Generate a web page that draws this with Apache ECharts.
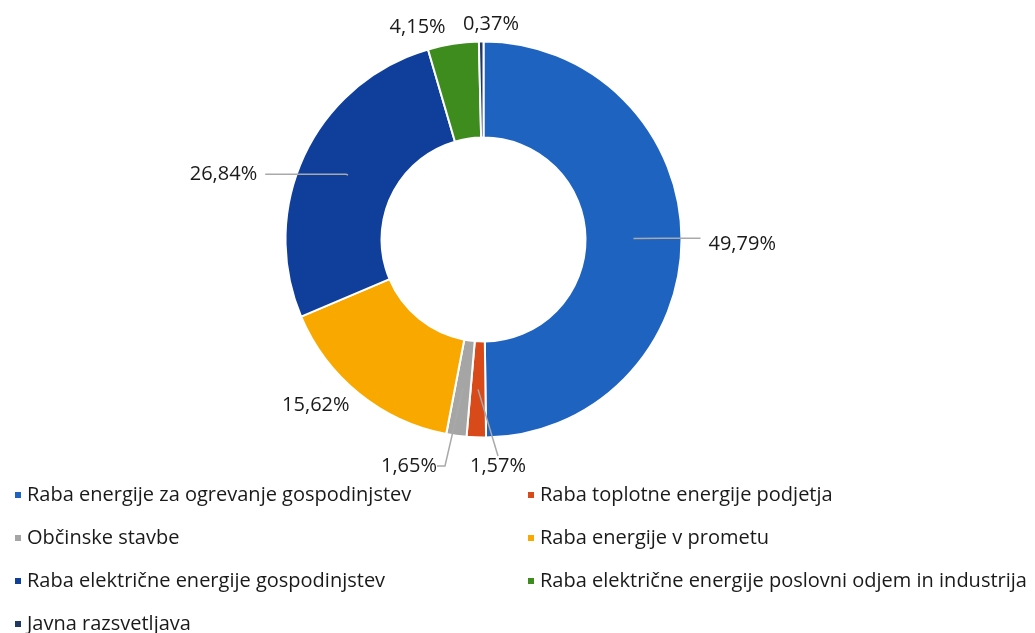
<!DOCTYPE html>
<html>
<head>
<meta charset="utf-8">
<script src="https://cdn.jsdelivr.net/npm/echarts@6/dist/echarts.min.js"></script>
<style>
  html, body { margin: 0; padding: 0; background: #fff; }
  #main { width: 1035px; height: 633px; }
</style>
</head>
<body>
<div id="main"></div>
<script>
var categories = [
    'Raba energije za ogrevanje gospodinjstev',
    'Raba toplotne energije podjetja',
    'Občinske stavbe',
    'Raba energije v prometu',
    'Raba električne energije gospodinjstev',
    'Raba električne energije poslovni odjem in industrija',
    'Javna razsvetljava'
];
var shares = [49.79, 1.57, 1.65, 15.62, 26.84, 4.15, 0.37];
var colors = ['#1f63c1', '#d84a1a', '#a5a5a5', '#f9a800', '#0f3f9b', '#3e8c1e', '#203864'];

// leader line tweaks per slice (Excel style labels)
var labelLines = [
    { length: 30, length2: 37, show: true, dist: 8 },
    { length: 55, length2: 0, show: true, dist: 5 },
    { length: 60, length2: 8, show: true, dist: 5 },
    { length: 63, length2: 0, show: false, dist: 0 },
    { length: 2, length2: 81, show: true, dist: 8 },
    { length: 65, length2: 0, show: false, dist: 5 },
    { length: 65, length2: 0, show: false, dist: 18 }
];

function fmt(v) {
    return v.toFixed(2).replace('.', ',') + '%';
}

initChart();

function initChart() {
    var chartDom = document.getElementById('main');
    var myChart = echarts.init(chartDom);
    var option;

    var ringData = categories.map(function (name, i) {
        return { name: name, value: shares[i], itemStyle: { color: colors[i] } };
    });
    var labelData = categories.map(function (name, i) {
        var t = labelLines[i];
        return {
            name: name,
            value: shares[i],
            label: { distanceToLabelLine: t.dist },
            labelLine: { show: t.show, length: t.length, length2: t.length2 }
        };
    });

    var legendText = { fontFamily: 'Open Sans', fontSize: 20, color: '#1a1a1a' };

    option = {
        animation: false,
        legend: [
            {
                orient: 'vertical',
                left: 13,
                top: 485,
                height: 200,
                padding: 0,
                itemWidth: 8,
                itemHeight: 8,
                itemGap: 23,
                icon: 'rect',
                selectedMode: false,
                textStyle: legendText,
                data: [categories[0], categories[2], categories[4], categories[6]]
            },
            {
                orient: 'vertical',
                left: 526,
                top: 485,
                height: 200,
                padding: 0,
                itemWidth: 8,
                itemHeight: 8,
                itemGap: 23,
                icon: 'rect',
                selectedMode: false,
                textStyle: legendText,
                data: [categories[1], categories[3], categories[5]]
            }
        ],
        series: [
            {
                name: 'ring',
                type: 'pie',
                center: [483.5, 239.5],
                radius: [102, 198],
                startAngle: 90,
                clockwise: true,
                silent: true,
                label: { show: false },
                labelLine: { show: false },
                itemStyle: { borderColor: '#ffffff', borderWidth: 2 },
                data: ringData
            },
            {
                name: 'labels',
                type: 'pie',
                z: 5,
                center: [483.5, 239.5],
                radius: [0, 150],
                startAngle: 90,
                clockwise: true,
                silent: true,
                avoidLabelOverlap: false,
                itemStyle: { color: 'rgba(0,0,0,0)' },
                label: {
                    show: true,
                    position: 'outside',
                    fontFamily: 'Open Sans',
                    fontSize: 20,
                    color: '#1a1a1a',
                    formatter: function (p) { return fmt(p.value); }
                },
                labelLine: {
                    lineStyle: { color: '#a9a9a9', width: 1.5 }
                },
                labelLayout: function (p) {
                    if (p.dataIndex === 0) {
                        return { dy: 6 };
                    }
                    if (p.dataIndex === 1) {
                        return { x: 470, y: 466, align: 'left', verticalAlign: 'middle' };
                    }
                    if (p.dataIndex === 2) {
                        return { x: 437, y: 466, align: 'right', verticalAlign: 'middle' };
                    }
                    if (p.dataIndex === 6) {
                        return { align: 'left' };
                    }
                },
                data: labelData
            }
        ]
    };

    option && myChart.setOption(option);
}
</script>
</body>
</html>
